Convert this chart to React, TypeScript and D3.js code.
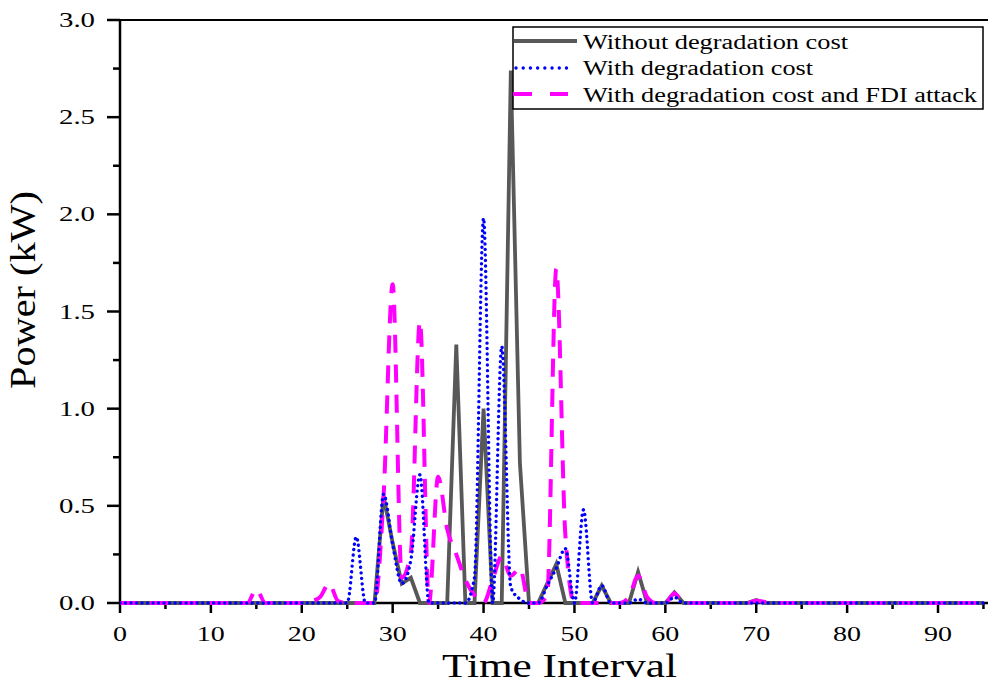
import React from 'react';
import * as d3 from 'd3';

// Time intervals 0..95
const withoutDegradation: number[] = [
  0, 0, 0, 0, 0, 0, 0, 0, 0, 0,
  0, 0, 0, 0, 0, 0, 0, 0, 0, 0,
  0, 0, 0, 0, 0, 0, 0, 0, 0, 0.55,
  0.31, 0.10, 0.13, 0, 0, 0, 0, 1.33, 0, 0,
  1.00, 0, 0, 2.74, 0.72, 0, 0, 0.10, 0.20, 0,
  0, 0, 0, 0.09, 0, 0, 0, 0.16, 0, 0,
  0, 0.055, 0, 0, 0, 0, 0, 0, 0, 0,
  0.015, 0, 0, 0, 0, 0, 0, 0, 0, 0,
  0, 0, 0, 0, 0, 0, 0, 0, 0, 0,
  0, 0, 0, 0, 0, 0,
];

const withDegradation: number[] = [
  0, 0, 0, 0, 0, 0, 0, 0, 0, 0,
  0, 0, 0, 0, 0, 0, 0, 0, 0, 0,
  0, 0, 0, 0, 0, 0, 0.34, 0, 0, 0.56,
  0.30, 0.10, 0.22, 0.66, 0, 0, 0, 0, 0, 0.13,
  1.98, 0, 1.32, 0.08, 0.02, 0, 0, 0.09, 0.18, 0.28,
  0, 0.48, 0, 0.09, 0, 0, 0, 0.02, 0, 0,
  0, 0.03, 0, 0, 0, 0, 0, 0, 0, 0,
  0, 0, 0, 0, 0, 0, 0, 0, 0, 0,
  0, 0, 0, 0, 0, 0, 0, 0, 0, 0,
  0, 0, 0, 0, 0, 0,
];

const withDegradationFDI: number[] = [
  0, 0, 0, 0, 0, 0, 0, 0, 0, 0,
  0, 0, 0, 0, 0, 0.07, 0, 0, 0, 0,
  0, 0.01, 0.03, 0.10, 0.01, 0, 0, 0, 0, 0.55,
  1.64, 0.13, 0.26, 1.45, 0, 0.65, 0.38, 0.25, 0.12, 0.04,
  0, 0.12, 0.24, 0.14, 0.18, 0, 0, 0.04, 1.72, 0.35,
  0, 0, 0, 0, 0, 0, 0.03, 0.14, 0.03, 0,
  0, 0.05, 0, 0, 0, 0, 0, 0, 0, 0,
  0.012, 0.005, 0, 0, 0, 0, 0, 0, 0, 0,
  0, 0, 0, 0, 0, 0, 0, 0, 0, 0,
  0, 0, 0, 0, 0, 0,
];

const xMajorTicks = [0, 10, 20, 30, 40, 50, 60, 70, 80, 90];
const xMinorTicks = [5, 15, 25, 35, 45, 55, 65, 75, 85, 95];
const yMajorTicks = [0, 0.5, 1.0, 1.5, 2.0, 2.5, 3.0];
const yMinorTicks = [0.25, 0.75, 1.25, 1.75, 2.25, 2.75];

const seriesNames = [
  'Without degradation cost',
  'With degradation cost',
  'With degradation cost and FDI attack',
];

const W = 988;
const H = 685;
const left = 120;
const right = 988;
const top = 20;
const bottom = 603;

const FONT = "'Liberation Serif', Tinos, 'Times New Roman', Times, serif";
const txt = { fontFamily: FONT, fill: '#000' } as React.CSSProperties;

export default function App() {
  const x = d3.scaleLinear().domain([0, 95.5]).range([left, right]);
  const y = d3.scaleLinear().domain([0, 3]).range([bottom, top]);

  const straight = d3
    .line<number>()
    .x((_, i) => x(i))
    .y((d) => y(d));
  const smooth = d3
    .line<number>()
    .x((_, i) => x(i))
    .y((d) => y(d))
    .curve(d3.curveMonotoneX);

  const grayColor = '#585858';
  const blueColor = '#0000ff';
  const magentaColor = '#ff00ff';

  return (
    <svg
      width={W}
      height={H}
      style={{ position: 'absolute', left: 0, top: 0, background: '#fff' }}
    >
      <rect x={0} y={0} width={W} height={H} fill="#fff" />
      <defs>
        <clipPath id="plotClip">
          <rect x={left} y={top - 5} width={right - left} height={bottom - top + 10} />
        </clipPath>
      </defs>

      {/* frame */}
      <line x1={left} y1={top} x2={right} y2={top} stroke="#000" strokeWidth={2} />
      <line x1={left} y1={top} x2={left} y2={bottom} stroke="#000" strokeWidth={2.5} />
      <line x1={left} y1={bottom} x2={right} y2={bottom} stroke="#000" strokeWidth={2.5} />

      {/* y ticks */}
      {yMajorTicks.map((t) => (
        <g key={'ym' + t}>
          <line x1={left - 13} x2={left} y1={y(t)} y2={y(t)} stroke="#000" strokeWidth={2.5} />
          <text
            x={95}
            y={y(t) + 7}
            fontSize={21}
            textAnchor="end"
            textLength={36}
            lengthAdjust="spacingAndGlyphs"
            style={txt}
          >
            {t.toFixed(1)}
          </text>
        </g>
      ))}
      {yMinorTicks.map((t) => (
        <line key={'yn' + t} x1={left - 7} x2={left} y1={y(t)} y2={y(t)} stroke="#000" strokeWidth={2.5} />
      ))}

      {/* x ticks */}
      {xMajorTicks.map((t) => (
        <g key={'xm' + t}>
          <line x1={x(t)} x2={x(t)} y1={bottom} y2={bottom + 10} stroke="#000" strokeWidth={2.5} />
          <text
            x={x(t)}
            y={641}
            fontSize={21}
            textAnchor="middle"
            textLength={String(t).length * 14}
            lengthAdjust="spacingAndGlyphs"
            style={txt}
          >
            {t}
          </text>
        </g>
      ))}
      {xMinorTicks.map((t) => (
        <line key={'xn' + t} x1={x(t)} x2={x(t)} y1={bottom} y2={bottom + 6} stroke="#000" strokeWidth={2.5} />
      ))}

      {/* axis titles */}
      <text
        x={559.5}
        y={677}
        fontSize={34}
        textAnchor="middle"
        textLength={235}
        lengthAdjust="spacingAndGlyphs"
        style={txt}
      >
        Time Interval
      </text>
      <text
        transform="translate(35,290) rotate(-90)"
        fontSize={35}
        textAnchor="middle"
        textLength={198}
        lengthAdjust="spacingAndGlyphs"
        style={txt}
      >
        Power (kW)
      </text>

      {/* data */}
      <g clipPath="url(#plotClip)">
        <path
          d={straight(withoutDegradation) || ''}
          fill="none"
          stroke={grayColor}
          strokeWidth={3.8}
          strokeLinejoin="miter"
        />
        <path
          d={smooth(withDegradationFDI) || ''}
          fill="none"
          stroke={magentaColor}
          strokeWidth={4}
          strokeDasharray="18,12"
        />
        <path
          d={smooth(withDegradation) || ''}
          fill="none"
          stroke={blueColor}
          strokeWidth={3.4}
          strokeDasharray="0.01,5.5"
          strokeLinecap="round"
        />
      </g>

      {/* legend */}
      <g>
        <rect x={513} y={27} width={470} height={82} fill="#fff" stroke="#000" strokeWidth={1.5} />
        <line x1={514} x2={577} y1={41} y2={41} stroke={grayColor} strokeWidth={3.8} />
        <line
          x1={516}
          x2={573}
          y1={68}
          y2={68}
          stroke={blueColor}
          strokeWidth={3.4}
          strokeDasharray="0.01,7.2"
          strokeLinecap="round"
        />
        <line
          x1={513}
          x2={568}
          y1={94}
          y2={94}
          stroke={magentaColor}
          strokeWidth={4}
          strokeDasharray="19,18"
        />
        {seriesNames.map((name, i) => (
          <text
            key={name}
            x={583}
            y={48.5 + i * 26.6}
            fontSize={20}
            textLength={[265, 230, 394][i]}
            lengthAdjust="spacingAndGlyphs"
            style={txt}
          >
            {name}
          </text>
        ))}
      </g>
    </svg>
  );
}
